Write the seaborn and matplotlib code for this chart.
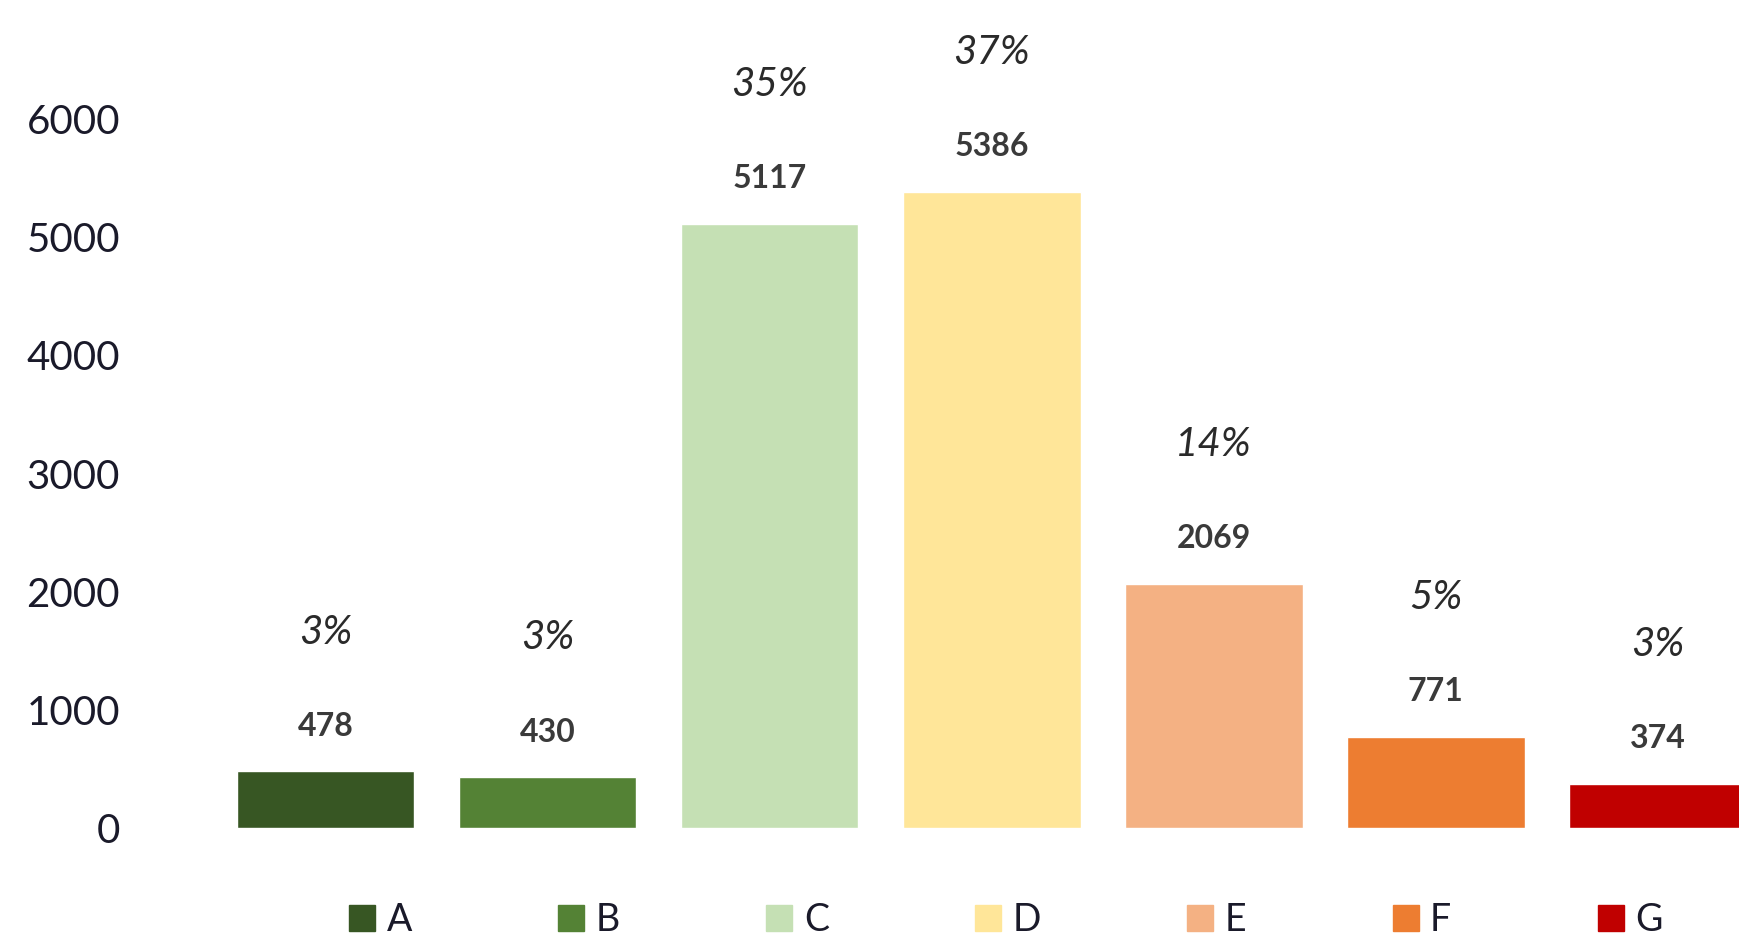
import pandas as pd
import matplotlib.pyplot as plt
import seaborn as sns
from matplotlib.lines import Line2D

sns.set_theme(style="white")
plt.rcParams['font.family'] = ['Lato', 'DejaVu Sans']

categories = ['A', 'B', 'C', 'D', 'E', 'F', 'G']
values = [478, 430, 5117, 5386, 2069, 771, 374]
percents = ['3%', '3%', '35%', '37%', '14%', '5%', '3%']
colors = ['#375623', '#548235', '#c5e0b4', '#ffe699', '#f4b183', '#ed7d31', '#c00000']
yticks = [0, 1000, 2000, 3000, 4000, 5000, 6000]

df = pd.DataFrame({'cat': categories, 'val': values})

fig = plt.figure(figsize=(17.4, 9.44), dpi=100)
ax = fig.add_axes([0.085, 0.123, 0.915, 0.857])

sns.barplot(data=df, x='cat', y='val', hue='cat', palette=colors,
            legend=False, width=0.8, saturation=1, ax=ax)

# value labels (bold) and percentages (italic) above each bar
for i, (v, p) in enumerate(zip(values, percents)):
    ax.annotate(str(v), (i, v), xytext=(0, 22), textcoords='offset points',
                ha='center', va='bottom', fontsize=23, fontweight='bold',
                color='#3a3a3a')
    ax.annotate(p, (i, v), xytext=(0, 87), textcoords='offset points',
                ha='center', va='bottom', fontsize=29, fontstyle='italic',
                color='#2a2a2a')

ax.set_xlim(-0.8, 6.37)
ax.set_ylim(0, 6850)
ax.set_yticks(yticks)
ax.set_yticklabels([str(t) for t in yticks], fontsize=29, color='#1a1a2a')
ax.tick_params(axis='y', length=0, pad=20)
ax.set_xticks([])
ax.set_xlabel('')
ax.set_ylabel('')
for s in ax.spines.values():
    s.set_visible(False)

handles = [Line2D([0], [0], marker='s', linestyle='', markersize=19,
                  markerfacecolor=c, markeredgecolor=c) for c in colors]
fig.legend(handles, categories, loc='center', bbox_to_anchor=(0.578, 0.025),
           ncol=7, frameon=False, fontsize=27, handlelength=0.7,
           handletextpad=0.3, columnspacing=3.9, labelcolor='#1a1a2a')

plt.savefig('out.png', dpi=100)
